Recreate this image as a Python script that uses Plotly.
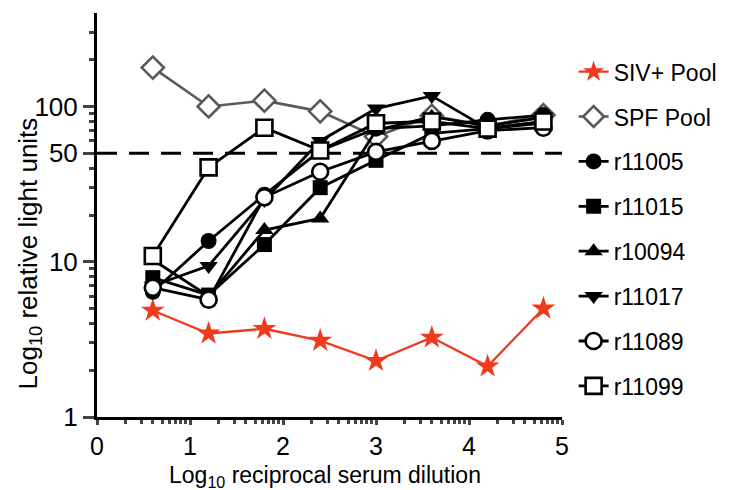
import plotly.graph_objects as go
import numpy as np

dilution = [0.6, 1.2, 1.8, 2.4, 3.0, 3.6, 4.2, 4.8]
siv_pool = [4.85, 3.45, 3.7, 3.1, 2.3, 3.25, 2.12, 5.0]
spf_pool = [178, 100, 109, 93, 64, 87, 75, 88]
r11005 = [6.4, 13.6, 27, 52, 72, 75, 82, 88]
r11015 = [7.9, 6.1, 12.9, 30, 45, 67, 72, 80]
r10094 = [10.3, 6.0, 16, 19, 70, 86, 75, 85]
r11017 = [7.0, 9.4, 25, 60, 97, 117, 72, 78]
r11089 = [6.8, 5.7, 26, 38, 51, 60, 70, 73]
r11099 = [10.9, 40.5, 73, 52, 78, 80, 72, 80]

threshold = 50
y_ticks = [1, 10, 50, 100]
y_ticktext = ["1", "10", "50", "100"]
x_ticks = [0, 1, 2, 3, 4, 5]

FONT = "Arial, Liberation Sans, sans-serif"

# name, values, symbol, line colour, marker colour, filled, line width, marker size
series = [
    ("SIV+ Pool", siv_pool, "star", "#f03a1e", "#f03a1e", True, 2.3, 18),
    ("SPF Pool", spf_pool, "diamond", "#5a5a5a", "#5a5a5a", False, 2.6, 17),
    ("r11005", r11005, "circle", "black", "black", True, 2.8, 16),
    ("r11015", r11015, "square", "black", "black", True, 2.8, 15),
    ("r10094", r10094, "triangle-up", "black", "black", True, 2.8, 16),
    ("r11017", r11017, "triangle-down", "black", "black", True, 2.8, 16),
    ("r11089", r11089, "circle", "black", "black", False, 2.8, 16),
    ("r11099", r11099, "square", "black", "black", False, 2.8, 16),
]

fig = go.Figure()
for i, (name, vals, sym, lc, mc, filled, lw, ms) in enumerate(series):
    fig.add_trace(go.Scatter(
        x=dilution, y=vals, name=name, mode="lines+markers",
        line=dict(color=lc, width=lw),
        marker=dict(symbol=sym, size=ms, color=mc if filled else "white",
                    line=dict(color=mc, width=0 if filled else 2.6)),
        legendgroup=f"g{i}",
    ))

fig.add_shape(type="line", xref="x", yref="y", x0=0, x1=5, y0=threshold, y1=threshold,
              line=dict(color="black", width=3, dash="20px,12px"), layer="below")

fig.add_annotation(text="Log<sub>10</sub> relative light units", xref="paper", yref="paper",
                   x=-0.186, y=0.405, xanchor="left", yanchor="middle", textangle=-90,
                   showarrow=False, font=dict(size=26))
fig.add_annotation(text="Log<sub>10</sub> reciprocal serum dilution", xref="paper", yref="paper",
                   x=0.49, y=-0.106, xanchor="center", yanchor="top",
                   showarrow=False, font=dict(size=23))

x_minor = [i + np.log10(k) for i in range(5) for k in range(2, 10)]
y_minor = [k * 10 ** d for d in range(3) for k in range(2, 10) if k * 10 ** d < 400]

fig.update_layout(
    width=734, height=490,
    margin=dict(l=89, r=180, t=5, b=81),
    paper_bgcolor="white", plot_bgcolor="white",
    font=dict(family=FONT, size=24, color="black"),
    showlegend=True,
    legend=dict(x=1.025, y=0.908, xanchor="left", yanchor="top",
                font=dict(size=23), tracegroupgap=12, itemwidth=30,
                bgcolor="rgba(0,0,0,0)"),
    xaxis=dict(range=[0, 5], tickvals=x_ticks, ticks="outside", ticklen=5, tickwidth=3,
               showline=True, linewidth=3, linecolor="black", showgrid=False, zeroline=False,
               tickfont=dict(size=25),
               minor=dict(tickvals=x_minor, ticks="outside", ticklen=4, tickwidth=2.5, showgrid=False)),
    yaxis=dict(type="log", range=[0, np.log10(400)], tickvals=y_ticks, ticktext=y_ticktext,
               ticks="outside", ticklen=11, tickwidth=3,
               showline=True, linewidth=3, linecolor="black", showgrid=False, zeroline=False,
               tickfont=dict(size=26),
               minor=dict(tickvals=y_minor, ticks="outside", ticklen=5, tickwidth=2.5, showgrid=False)),
)

fig.write_html("out.html")
